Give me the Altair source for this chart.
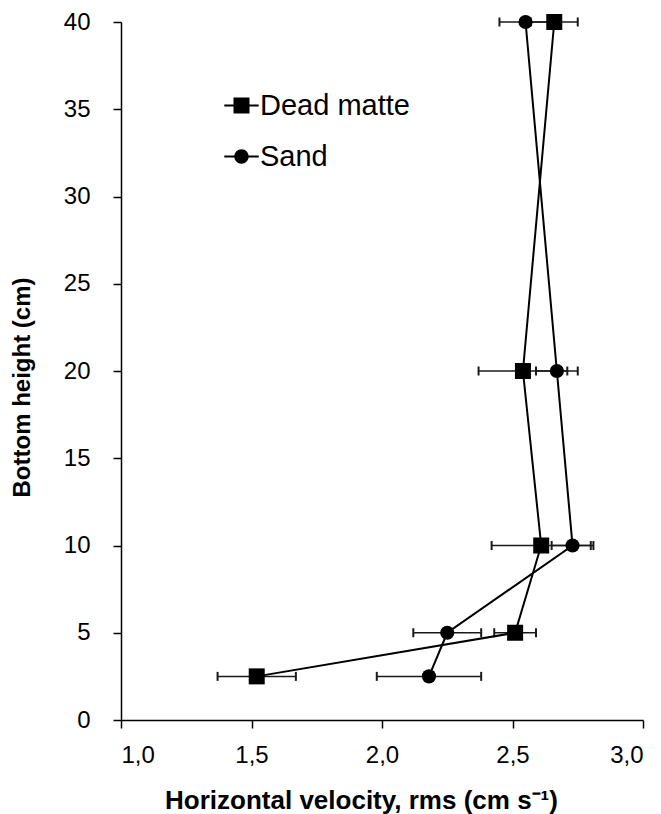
import altair as alt
import pandas as pd

heights = [2.5, 5, 10, 20, 40]
series = ["Dead matte", "Sand"]
dead_vel = [1.52, 2.51, 2.61, 2.54, 2.66]
dead_err = [0.15, 0.08, 0.19, 0.17, 0.09]
sand_vel = [2.18, 2.25, 2.73, 2.67, 2.55]
sand_err = [0.20, 0.13, 0.08, 0.08, 0.10]
x_ticks = [1.0, 1.5, 2.0, 2.5, 3.0]
y_ticks = [0, 5, 10, 15, 20, 25, 30, 35, 40]

rows = []
for s, vals, errs in [(series[0], dead_vel, dead_err), (series[1], sand_vel, sand_err)]:
    for h, v, e in zip(heights, vals, errs):
        rows.append({"series": s, "height": h, "vel": v, "lo": v - e, "hi": v + e})
df = pd.DataFrame(rows)

FONT = "Liberation Sans"
xs = alt.Scale(domain=[1, 3], nice=False, zero=False)
ys = alt.Scale(domain=[0, 40], nice=False)
x_axis = alt.Axis(values=x_ticks, grid=False,
                  labelExpr="replace(format(datum.value,'.1f'),'.',',')",
                  title="Horizontal velocity, rms (cm s\u207b\u00b9)",
                  titleFontSize=26, titleX=240, titleY=80, titleAlign="center",
                  titleBaseline="middle", labelPadding=15)
y_axis = alt.Axis(values=y_ticks, grid=False, title="Bottom height (cm)",
                  titleFontSize=24, labelPadding=23, titleX=-99, titleY=365,
                  titleAngle=270, titleAlign="center", titleBaseline="middle")

base = alt.Chart(df)
EB = "#1a1a1a"
bars = base.mark_rule(color=EB, strokeWidth=1.5).encode(
    x=alt.X("lo:Q", scale=xs, axis=x_axis),
    x2="hi:Q",
    y=alt.Y("height:Q", scale=ys, axis=y_axis),
)
cap_lo = base.mark_tick(orient="vertical", color=EB, thickness=2, size=9, opacity=1).encode(
    x=alt.X("lo:Q", scale=xs), y=alt.Y("height:Q", scale=ys))
cap_hi = base.mark_tick(orient="vertical", color=EB, thickness=2, size=9, opacity=1).encode(
    x=alt.X("hi:Q", scale=xs), y=alt.Y("height:Q", scale=ys))

lines = base.mark_line(color="black", strokeWidth=2).encode(
    x=alt.X("vel:Q", scale=xs), y=alt.Y("height:Q", scale=ys),
    detail="series:N", order="height:Q")

sq = base.transform_filter(alt.datum.series == series[0]).mark_point(
    shape="square", filled=True, color="black", opacity=1, size=256).encode(
    x=alt.X("vel:Q", scale=xs), y=alt.Y("height:Q", scale=ys))
ci = base.transform_filter(alt.datum.series == series[1]).mark_point(
    shape="circle", filled=True, color="black", opacity=1, size=201).encode(
    x=alt.X("vel:Q", scale=xs), y=alt.Y("height:Q", scale=ys))

# legend glyphs: a short filled bar (the line) plus the marker, all filled
sq_path = "M-2.15,-0.13H2.15V0.13H-2.15Z M-1,-1H1V1H-1Z"
ci_path = "M-2.15,-0.13H2.15V0.13H-2.15Z M0.9,0A0.9,0.9,0,1,1,-0.9,0A0.9,0.9,0,1,1,0.9,0Z"

legend_layer = base.mark_point(filled=True, color="black", opacity=0).encode(
    x=alt.X("vel:Q", scale=xs), y=alt.Y("height:Q", scale=ys),
    shape=alt.Shape("series:N", scale=alt.Scale(domain=series, range=[sq_path, ci_path]),
                    legend=alt.Legend(orient="none", legendX=106, legendY=69, title=None,
                                      labelFontSize=29, labelFont=FONT, labelColor="black",
                                      symbolSize=256, labelOffset=4, rowPadding=21,
                                      symbolFillColor="black", symbolOpacity=1,
                                      symbolStrokeWidth=0, padding=0)))

chart = alt.layer(bars, cap_lo, cap_hi, lines, sq, ci, legend_layer).properties(
    width=522, height=698,
    padding={"left": 113, "top": 14, "right": 10, "bottom": 94},
    autosize="none",
).configure_view(stroke=None).configure_axis(
    domainColor="black", domainWidth=1.5, tickColor="black", tickWidth=1.5, tickSize=8,
    labelFont=FONT, labelFontSize=24, labelColor="black",
    titleFont=FONT, titleFontWeight="bold", titleColor="black",
)

chart.save("out.html", embed_options={"renderer": "svg", "actions": False})
